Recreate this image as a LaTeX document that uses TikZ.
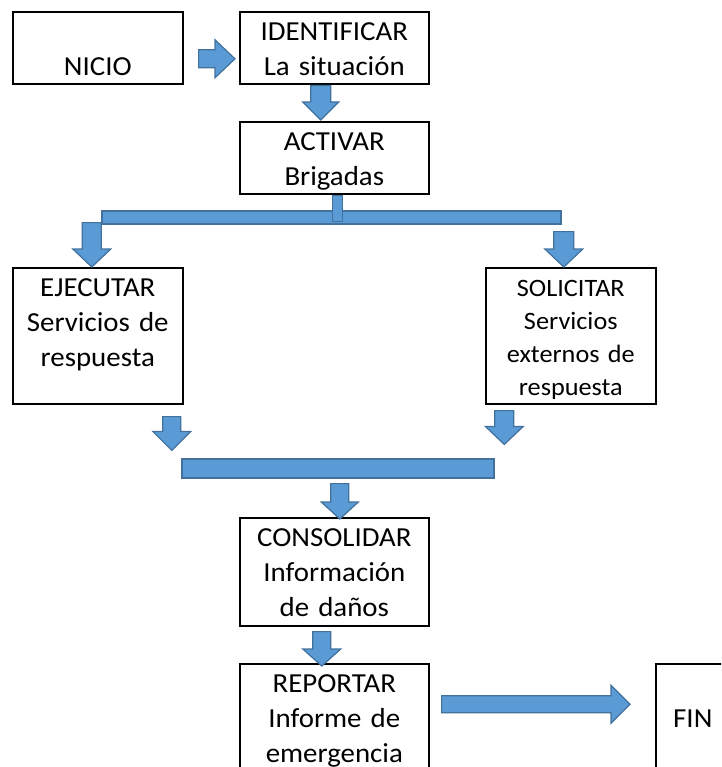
\documentclass[tikz,border=0pt]{standalone}
\usepackage{fontspec}
\setmainfont{Carlito}[FakeStretch=1.05]
\usetikzlibrary{calc}
\definecolor{arrowfill}{RGB}{91,155,213}
\definecolor{arrowline}{RGB}{65,113,156}

\tikzset{
  ba shaft/.store in=\bashaft, ba head/.store in=\bahead, ba len/.store in=\balen,
  ba shaft=9pt, ba head=19pt, ba len=18pt,
}

\begin{document}
\begin{tikzpicture}[x=1pt, y=-1pt,
    box/.style={draw, line width=1.6pt, inner sep=0pt, anchor=north west, align=center,
      text height=28.5pt, font=\fontsize{27.5}{35}\selectfont},
    bar/.style={draw=arrowline, fill=arrowfill, line width=1.2pt, inner sep=0pt},
    flow/.style={draw=arrowline, fill=arrowfill, line width=1.2pt, line join=miter,
      to path={let \p1=(\tikztostart), \p2=(\tikztotarget) in
        ($(\p1)!\bashaft!90:(\p2)$)
        -- ($(\p2)!\balen!(\p1)!\bashaft!90:(\p2)$)
        -- ($(\p2)!\balen!(\p1)!\bahead!90:(\p2)$)
        -- (\p2)
        -- ($(\p2)!\balen!(\p1)!\bahead!-90:(\p2)$)
        -- ($(\p2)!\balen!(\p1)!\bashaft!-90:(\p2)$)
        -- ($(\p1)!\bashaft!-90:(\p2)$)
        -- cycle}},
  ]
  \useasboundingbox (0,0) rectangle (721,767);
  \clip (0,0) rectangle (721,767);

  % boxes
  \node[box, text width=170pt, text height=64pt, text depth=8pt] (nicio) at (12,11) {NICIO};
  \node[box, text width=189pt, text depth=43.5pt] (ident) at (239,11) {IDENTIFICAR\\La situación};
  \node[box, text width=189pt, text depth=43.5pt] (activar) at (239,121) {ACTIVAR\\Brigadas};
  \node[box, text width=170pt, text depth=107.5pt] (ejecutar) at (12,267) {EJECUTAR\\Servicios de\\respuesta};
  \node[box, text width=170pt, text depth=107.5pt, font=\fontsize{25}{33}\selectfont] (solicitar) at (485,267) {SOLICITAR\\Servicios\\externos de\\respuesta};
  \node[box, text width=189pt, text depth=79.5pt] (consolidar) at (239,517) {CONSOLIDAR\\Información\\de daños};
  \node[box, text width=189pt, text depth=86.5pt] (reportar) at (239,663) {REPORTAR\\Informe de\\emergencia};
  \node[box, text width=74pt, text height=64pt, text depth=51pt] (fin) at (655,663) {FIN};

  % bars
  \node[bar, minimum width=459pt, minimum height=13pt] (bar1) at (331.5,217.5) {};
  \node[bar, minimum width=312pt, minimum height=19pt] (bar2) at (338,468.5) {};
  \draw[bar] ($(activar.south)+(-1.5,1)$) rectangle ($(activar.south)+(8.5,27)$);

  % arrows
  \draw[flow, ba len=20pt] ($(nicio.east)+(15,11)$) to ($(ident.west)+(-4,11)$);
  \draw[flow, ba shaft=10pt, ba head=18pt] ($(ident.south)+(-13.5,1)$) to ($(activar.north)+(-13.5,-1)$);
  \draw[flow, ba shaft=9.5pt] ($(bar1.south -| ejecutar.north)+(-6,-2)$) to ($(ejecutar.north)+(-6,0)$);
  \draw[flow, ba shaft=10pt] ($(bar1.south -| solicitar.north)+(-7,7)$) to ($(solicitar.north)+(-7,0)$);
  \draw[flow, ba len=19pt] ($(ejecutar.south)+(74,12)$) to ($(bar2.north -| ejecutar.south)+(74,-8)$);
  \draw[flow, ba shaft=9.5pt] ($(solicitar.south)+(-66.5,6)$) to ($(bar2.north -| solicitar.south)+(-66.5,-14)$);
  \draw[flow, ba head=18.5pt, ba len=17pt] ($(bar2.south -| consolidar.north)+(5.5,5)$) to ($(consolidar.north)+(5.5,2)$);
  \draw[flow, ba len=17pt] ($(consolidar.south)+(-12.5,5)$) to ($(reportar.north)+(-12.5,3)$);
  \draw[flow, ba shaft=8.5pt, ba len=19pt] ($(reportar.east)+(12,-17)$) to ($(fin.west)+(-25,-17)$);
\end{tikzpicture}
\end{document}
